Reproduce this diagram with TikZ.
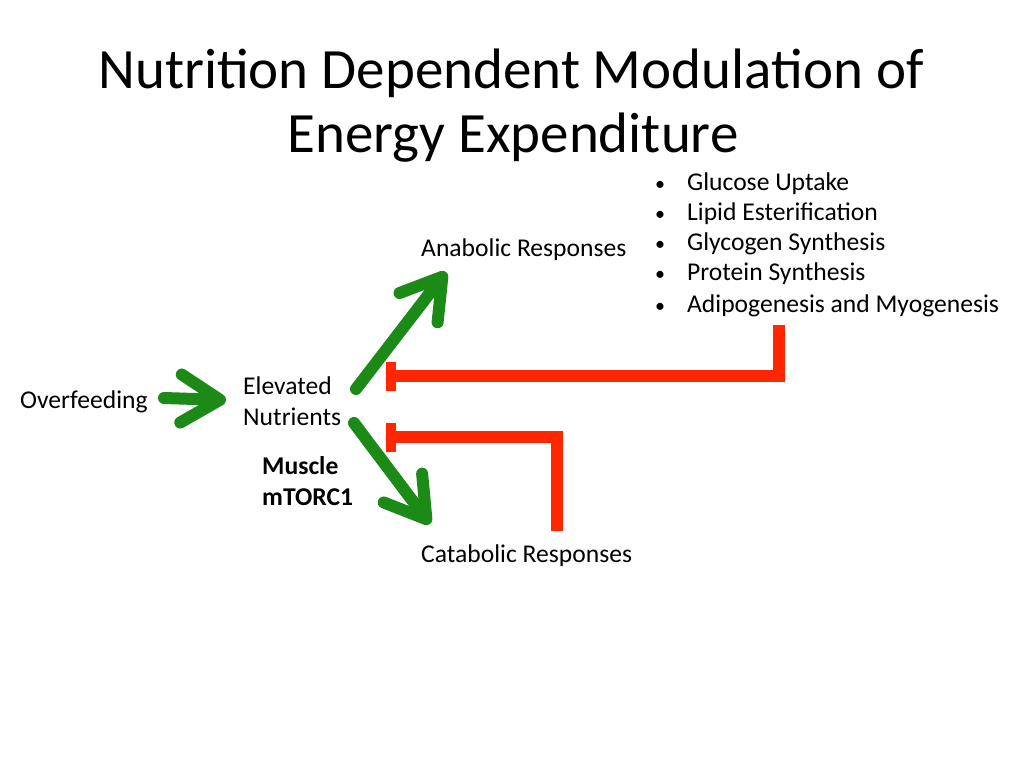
\documentclass[tikz,border=0pt]{standalone}
\usepackage{fontspec}
\setmainfont{Carlito}
\usetikzlibrary{arrows.meta}
\definecolor{grn}{RGB}{28,138,22}
\definecolor{rd}{RGB}{255,38,0}
\newcommand{\bul}{{\fontsize{20}{22}\selectfont•}}
\begin{document}
\begin{tikzpicture}[x=1pt,y=-1pt,
  txt/.style={inner sep=0pt, font=\fontsize{25.6}{30.2}\selectfont, align=left},
  ttl/.style={inner sep=0pt, font=\fontsize{57}{64}\selectfont},
  grnarrow/.style={draw=grn, line width=12pt, line cap=round,
    -{Straight Barb[length=39pt,width=48pt,round]}},
  inhib/.style={draw=rd, line width=12pt, line join=miter,
    -{Bar[width=29pt,line width=10pt]}}]
\useasboundingbox (0,0) rectangle (1024,768);
\fill[white] (0,0) rectangle (1024,768);
% title
\node[ttl, anchor=base] (t1) at (511,88) {Nutrition Dependent Modulation of};
\node[ttl, anchor=base] (t2) at (513,152) {Energy Expenditure};
% texts
\node[txt, anchor=base west] (ovf) at (20,408) {Overfeeding};
\node[txt, anchor=base west] (elv) at (243,425) {Elevated\\Nutrients};
\node[txt, anchor=base west, font=\fontsize{25.6}{30.2}\selectfont\bfseries] (mus) at (262,505) {Muscle\\mTORC1};
\node[txt, anchor=base west] (ana) at (421,256) {Anabolic Responses};
\node[txt, anchor=base west] (cat) at (421,562) {Catabolic Responses};
\node[txt, anchor=base west] (lst) at (655,312) {%
\begin{tabular}[b]{@{}l@{\hspace{22pt}}l@{}}
\bul&Glucose Uptake\\
\bul&Lipid Esterification\\
\bul&Glycogen Synthesis\\
\bul&Protein Synthesis\\[1pt]
\bul&Adipogenesis and Myogenesis
\end{tabular}};
% connector ends
\coordinate (a1s) at (164,398);
\coordinate (a1e) at (226,400);
\coordinate (a2s) at (356,389);
\coordinate (a2e) at (446,272);
\coordinate (a3s) at (354,423);
\coordinate (a3e) at (430,524);
\coordinate (r1s) at (779,325);
\coordinate (r1e) at (386,376);
\coordinate (r2s) at (557,531);
\coordinate (r2e) at (386,437);
% green arrows
\draw[grnarrow] (a1s) -- (a1e);
\draw[grnarrow] (a2s) -- (a2e);
\draw[grnarrow] (a3s) -- (a3e);
% red inhibitions
\draw[inhib] (r1s) |- (r1e);
\draw[inhib] (r2s) |- (r2e);
\end{tikzpicture}
\end{document}
